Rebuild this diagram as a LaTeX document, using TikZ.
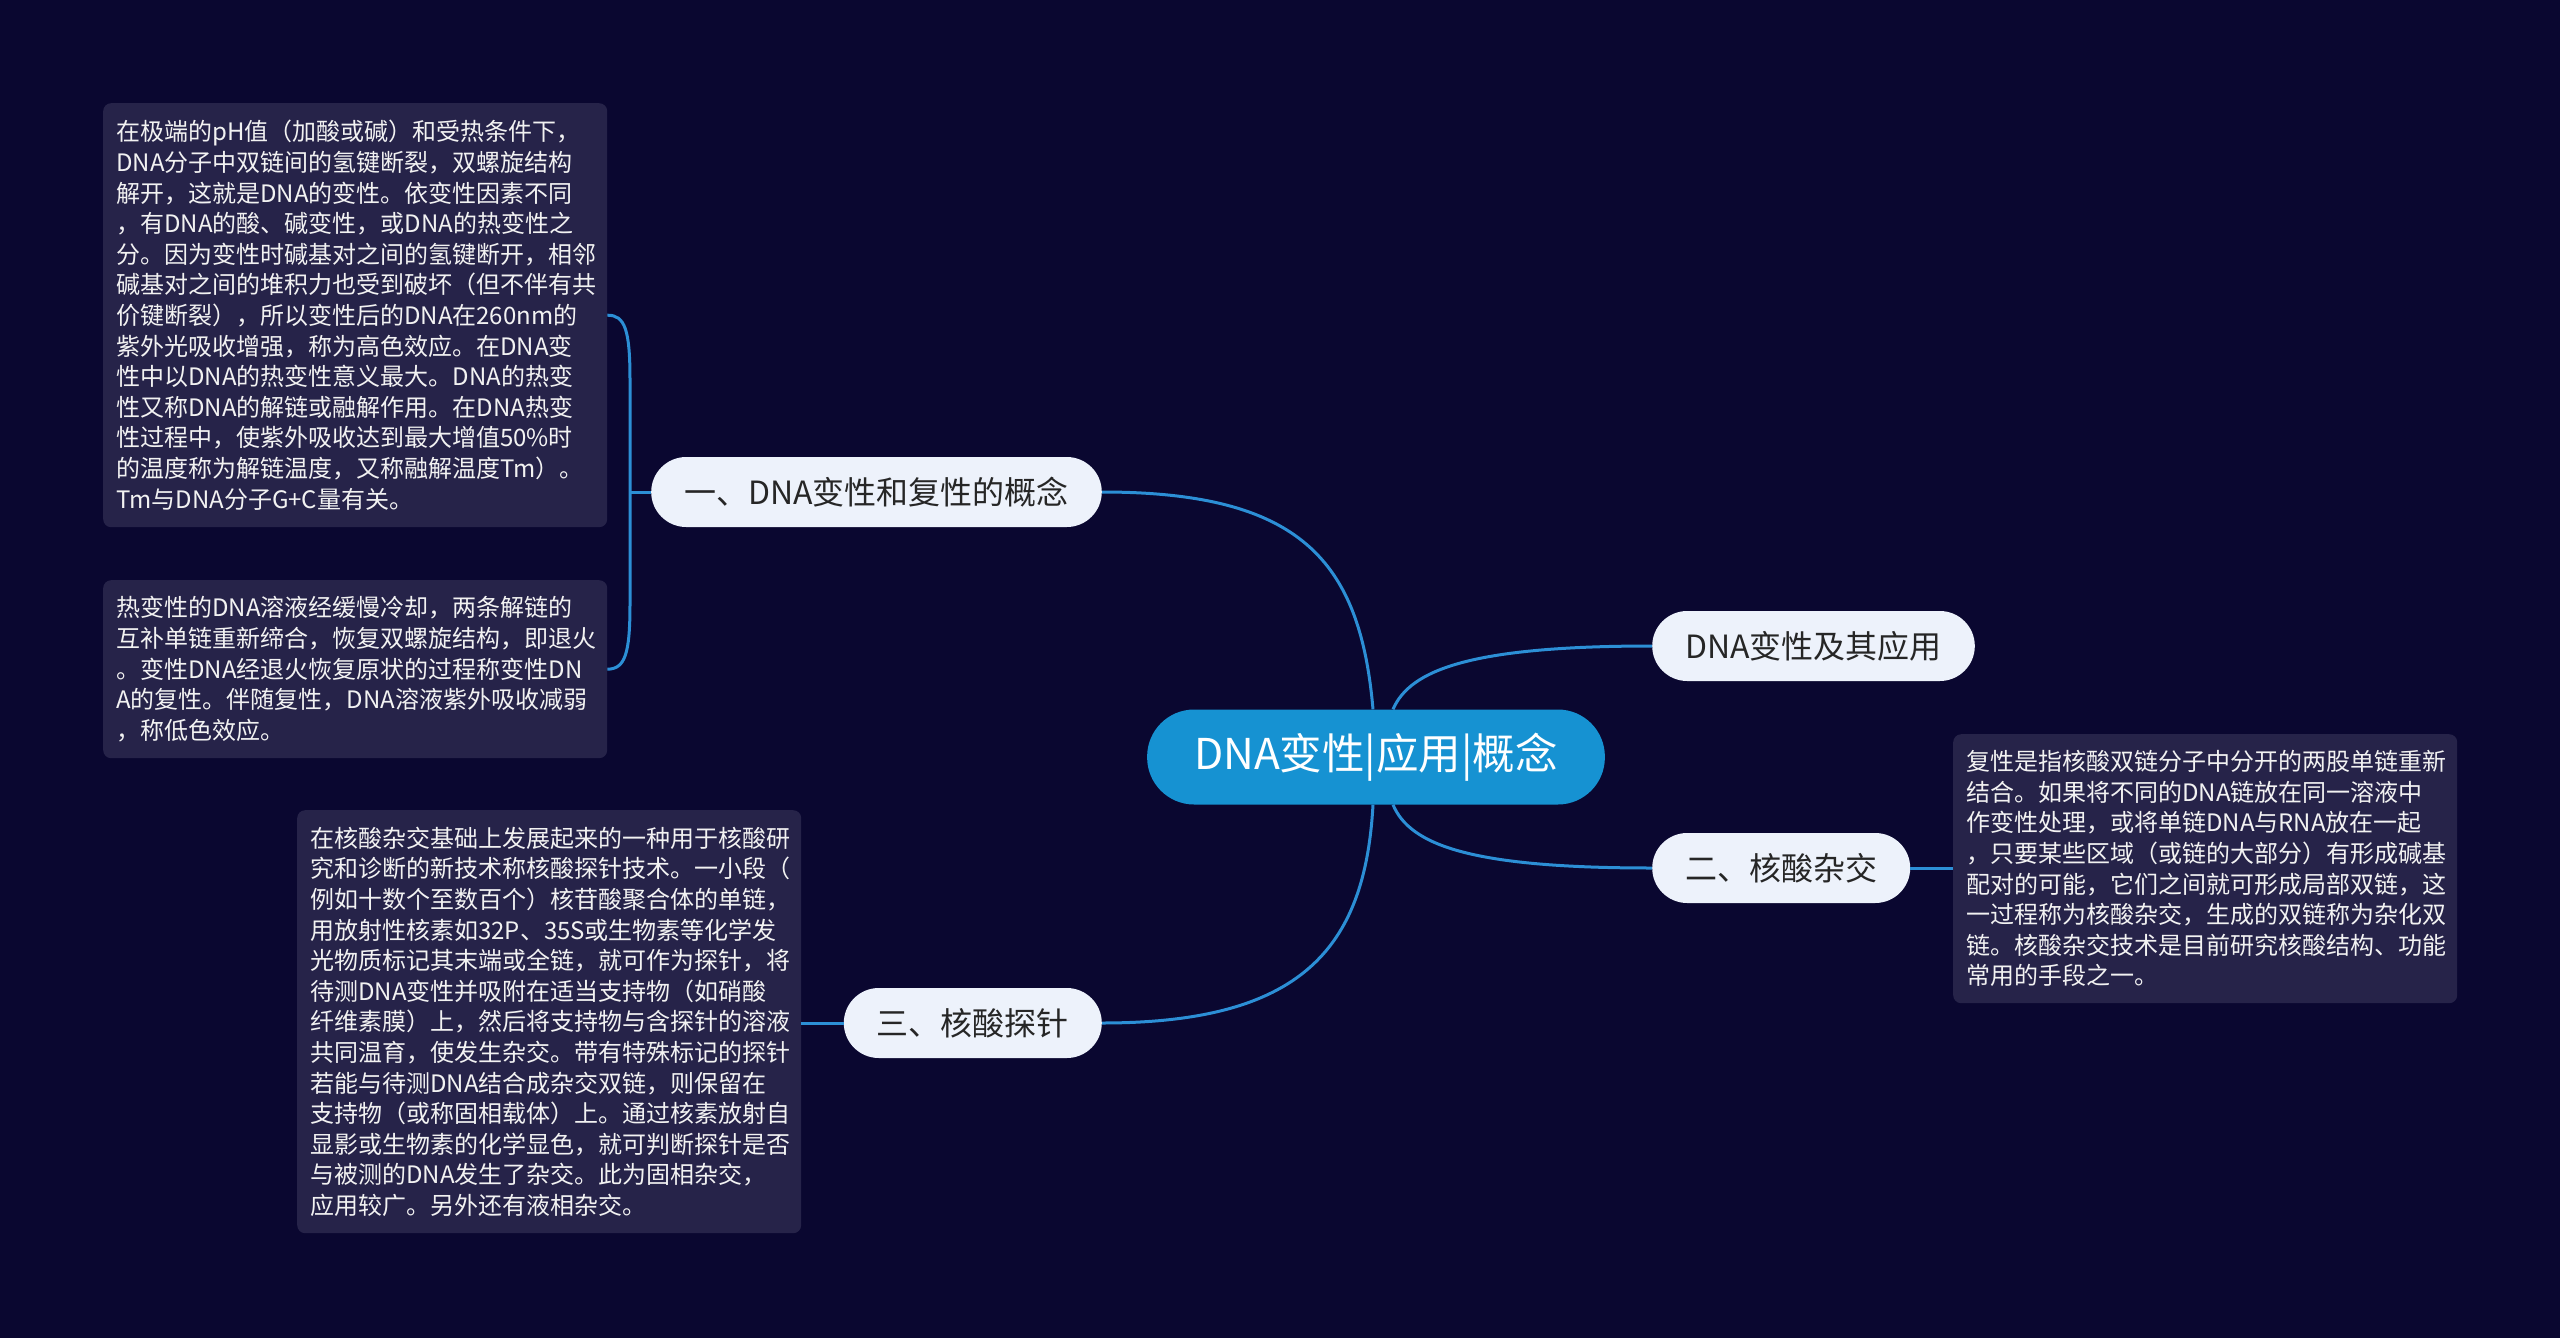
\documentclass[tikz,border=0pt]{standalone}
\usepackage{fontspec}
\setmainfont{Noto Sans CJK SC}
\definecolor{bgnavy}{HTML}{0A0730}
\definecolor{leafbg}{HTML}{262349}
\definecolor{linkblue}{HTML}{2C8FD6}
\definecolor{topicblue}{HTML}{1692D2}
\definecolor{pillbg}{HTML}{EDF2FB}
\definecolor{pilltext}{HTML}{262626}

\begin{document}
\begin{tikzpicture}[x=1pt, y=-1pt,
		topic/.style={fill=topicblue, text=white, rounded corners=47pt, minimum height=95pt, inner xsep=47pt, font=\fontsize{42.5}{50}\selectfont},
		branch/.style={fill=pillbg, text=pilltext, rounded corners=35pt, minimum height=70pt, inner xsep=33pt, font=\fontsize{32}{38}\selectfont},
		leaf/.style={fill=leafbg, text=white!95!black, rounded corners=8pt, anchor=north west, align=left, text width=478pt, inner xsep=13pt, inner ysep=0pt, font=\fontsize{24}{30.6}\selectfont},
		link/.style={draw=linkblue, line width=3pt}]
		\fill[bgnavy] (0,0) rectangle (2560,1338);
		\useasboundingbox (0,0) rectangle (2560,1338);

		\node[topic] at (1376,757) (dna) {DNA变性|应用|概念};
		\node[branch, anchor=east] at (1102,492) (gainian) {一、DNA变性和复性的概念};
		\node[branch, anchor=west] at (1652,646) (yingyong) {DNA变性及其应用};
		\node[branch, anchor=west] at (1652,868) (zajiao) {二、核酸杂交};
		\node[branch, anchor=east] at (1102,1023) (tanzhen) {三、核酸探针};

		\node[leaf, minimum height=424pt] at (103,103) (bianxing) {在极端的pH值（加酸或碱）和受热条件下，\\DNA分子中双链间的氢键断裂，双螺旋结构\\解开，这就是DNA的变性。依变性因素不同\\，有DNA的酸、碱变性，或DNA的热变性之\\分。因为变性时碱基对之间的氢键断开，相邻\\碱基对之间的堆积力也受到破坏（但不伴有共\\价键断裂），所以变性后的DNA在260nm的\\紫外光吸收增强，称为高色效应。在DNA变\\性中以DNA的热变性意义最大。DNA的热变\\性又称DNA的解链或融解作用。在DNA热变\\性过程中，使紫外吸收达到最大增值50\%时\\的温度称为解链温度，又称融解温度Tm）。\\Tm与DNA分子G+C量有关。};
		\node[leaf, minimum height=178pt] at (103,580) (fuxing) {热变性的DNA溶液经缓慢冷却，两条解链的\\互补单链重新缔合，恢复双螺旋结构，即退火\\。变性DNA经退火恢复原状的过程称变性DN\\A的复性。伴随复性，DNA溶液紫外吸收减弱\\，称低色效应。};
		\node[leaf, minimum height=423pt] at (297,810) (jishu) {在核酸杂交基础上发展起来的一种用于核酸研\\究和诊断的新技术称核酸探针技术。一小段（\\例如十数个至数百个）核苷酸聚合体的单链，\\用放射性核素如32P、35S或生物素等化学发\\光物质标记其末端或全链，就可作为探针，将\\待测DNA变性并吸附在适当支持物（如硝酸\\纤维素膜）上，然后将支持物与含探针的溶液\\共同温育，使发生杂交。带有特殊标记的探针\\若能与待测DNA结合成杂交双链，则保留在\\支持物（或称固相载体）上。通过核素放射自\\显影或生物素的化学显色，就可判断探针是否\\与被测的DNA发生了杂交。此为固相杂交，\\应用较广。另外还有液相杂交。};
		\node[leaf, minimum height=269pt] at (1953,734) (shuanglian) {复性是指核酸双链分子中分开的两股单链重新\\结合。如果将不同的DNA链放在同一溶液中\\作变性处理，或将单链DNA与RNA放在一起\\，只要某些区域（或链的大部分）有形成碱基\\配对的可能，它们之间就可形成局部双链，这\\一过程称为核酸杂交，生成的双链称为杂化双\\链。核酸杂交技术是目前研究核酸结构、功能\\常用的手段之一。};

		% main branches
		\path[link] ([xshift=-3pt]dna.north) .. controls (1360,560) and (1300,492) .. (gainian.east);
		\path[link] ([xshift=17pt]dna.north) .. controls (1410,670) and (1470,646) .. (yingyong.west);
		\path[link] ([xshift=17pt]dna.south) .. controls (1410,845) and (1470,868) .. (zajiao.west);
		\path[link] ([xshift=-3pt]dna.south) .. controls (1365,950) and (1300,1023) .. (tanzhen.east);

		% leaves
		\coordinate (kuohao) at (630,492);
		\path[link] (gainian.west) -- (kuohao);
		\path[link] (bianxing.east) .. controls (625,315) and (630,330) .. (630,380) -- (kuohao) -- (630,604) .. controls (630,654) and (625,669) .. (fuxing.east);
		\path[link] (zajiao.east) -- (shuanglian.west |- zajiao.east);
		\path[link] (tanzhen.west) -- (jishu.east |- tanzhen.west);
\end{tikzpicture}
\end{document}
